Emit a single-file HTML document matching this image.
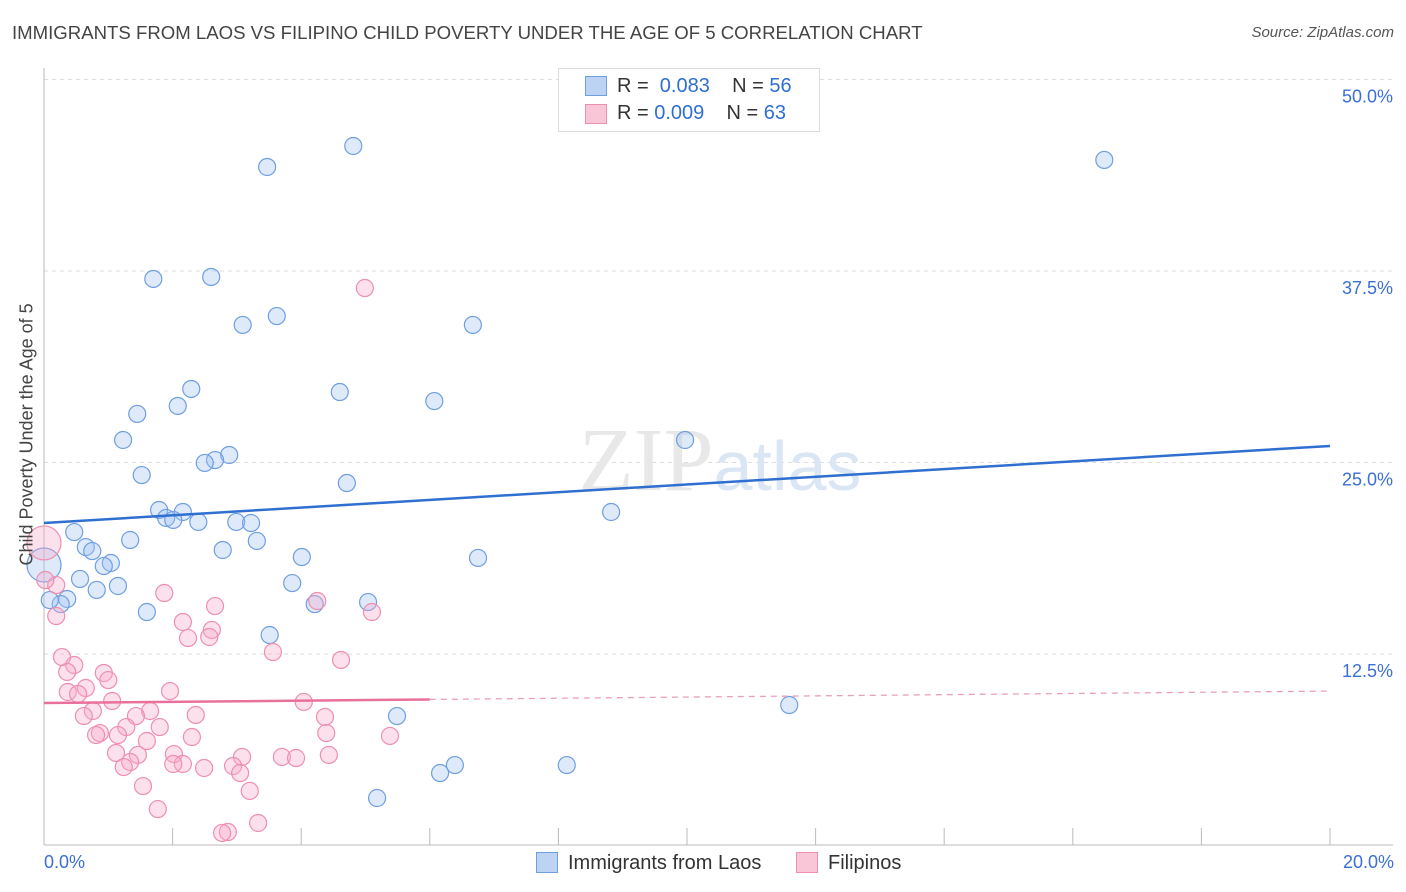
<!DOCTYPE html>
<html><head><meta charset="utf-8"><style>
body{margin:0;background:#fff;font-family:"Liberation Sans",sans-serif;}
#c{position:relative;width:1406px;height:892px;overflow:hidden}
.t{position:absolute;white-space:nowrap}
</style></head><body>
<div id="c">
<div class="t" style="left:12px;top:22px;font-size:18.6px;color:#444">IMMIGRANTS FROM LAOS VS FILIPINO CHILD POVERTY UNDER THE AGE OF 5 CORRELATION CHART</div>
<div class="t" style="right:12px;top:24px;font-size:15px;color:#555;font-style:italic">Source: ZipAtlas.com</div>
<svg id="s" width="1406" height="892" style="position:absolute;left:0;top:0"></svg>
</div>
<script>
const xTicks=[0,2,4,6,8,10,12,14,16,18,20];
const yTicks=[12.5,25,37.5,50];
const yTickLabels=["12.5%","25.0%","37.5%","50.0%"];
const laosX=[4.81,3.47,16.49,1.70,2.60,3.09,3.62,6.67,2.29,4.60,6.07,2.08,1.45,1.23,9.97,2.88,2.66,2.50,1.52,4.71,1.79,2.16,1.90,2.01,2.40,2.99,3.22,8.82,0.47,1.34,3.31,0.65,0.75,2.78,4.01,6.75,1.04,0.93,0.56,1.15,3.86,0.82,0.36,0.26,1.60,4.21,5.04,3.51,5.49,11.59,6.39,6.16,8.13,5.18,0,0.09];
const laosY=[45.66,44.29,44.75,36.98,37.11,33.98,34.56,33.98,29.80,29.60,29.01,28.69,28.17,26.47,26.47,25.49,25.16,24.97,24.18,23.66,21.90,21.77,21.38,21.25,21.12,21.12,21.05,21.77,20.46,19.94,19.88,19.48,19.22,19.29,18.83,18.77,18.44,18.24,17.40,16.94,17.13,16.68,16.09,15.76,15.24,15.76,15.89,13.74,8.45,9.17,5.25,4.73,5.25,3.10,18.31,16.02];
const filX=[4.99,0,0.19,0.19,1.87,2.66,4.25,5.10,2.16,2.61,2.57,2.24,3.56,4.62,0.28,0.47,0.36,0.93,1.00,0.65,0.37,0.53,1.96,4.04,1.06,0.76,0.62,1.65,1.43,2.36,4.37,1.28,1.80,0.87,0.81,1.15,4.39,5.38,2.30,1.60,1.12,1.46,2.02,3.08,2.16,2.01,3.70,3.92,4.43,1.34,1.24,2.49,2.94,3.05,1.54,3.20,1.77,3.33,2.86,2.77,0.02];
const filY=[36.39,19.75,17.00,14.98,16.48,15.63,15.96,15.24,14.59,14.07,13.61,13.54,12.63,12.11,12.30,11.78,11.33,11.26,10.80,10.28,10.02,9.89,10.08,9.37,9.43,8.78,8.45,8.78,8.45,8.52,8.39,7.73,7.73,7.34,7.21,7.21,7.34,7.15,7.08,6.82,6.04,5.91,5.97,5.78,5.32,5.32,5.78,5.71,5.91,5.45,5.12,5.06,5.19,4.73,3.88,3.56,2.38,1.47,0.88,0.82,17.33];
const laosTrend=[21.05,26.08];
const filTrend=[9.30,10.08];
const NS="http://www.w3.org/2000/svg";
const s=document.getElementById('s');
const X=v=>44+v/20*1286, Y=v=>845.5-v/12.5*191.5;
function mk(t,a){const e=document.createElementNS(NS,t);for(const k in a)e.setAttribute(k,a[k]);s.appendChild(e);return e;}
yTicks.forEach((v,i)=>{const g=mk('line',{x1:44,x2:1393,y1:Y(v),y2:Y(v),stroke:'#ddd','stroke-dasharray':'4,4'});


const t=mk('text',{x:1393,y:Y(v)+23,'text-anchor':'end','font-size':18,fill:'#3b6fd4'});t.textContent=yTickLabels[i];

});
const ax=mk('line',{x1:44,x2:44,y1:68,y2:845,stroke:'#bbb'});


const bx=mk('line',{x1:44,x2:1393,y1:845,y2:845,stroke:'#bbb'});


xTicks.slice(1).forEach(v=>{const l=mk('line',{x1:X(v),x2:X(v),y1:828,y2:845,stroke:'#bbb'});

});
const wm=mk('text',{x:720,y:490,'text-anchor':'middle','font-size':90,fill:'#e8e8e8','font-family':'Liberation Serif'});wm.innerHTML='ZIP<tspan fill="#dbe6f5" font-family="Liberation Sans" font-size="70">atlas</tspan>';


function pts(xs,ys,fill,stroke,name){xs.forEach((v,i)=>{const big=(v===0);const c=mk('circle',{cx:X(v),cy:Y(ys[i]),r:big?17:8.5,fill:fill,stroke:stroke,'stroke-width':1.2});

});}
pts(laosX,laosY,'rgba(160,196,240,0.35)','#6f9fe0','laos-point');
pts(filX,filY,'rgba(245,170,200,0.35)','#ee8fb0','filipino-point');
const bt=mk('line',{x1:X(0),y1:Y(laosTrend[0]),x2:X(20),y2:Y(laosTrend[1]),stroke:'#2f6fd0','stroke-width':2.5});


const fy=x=>filTrend[0]+(filTrend[1]-filTrend[0])*x/20;
const pt=mk('line',{x1:X(0),y1:Y(fy(0)),x2:X(6),y2:Y(fy(6)),stroke:'#e8709a','stroke-width':2.5});


const pd=mk('line',{x1:X(6),y1:Y(fy(6)),x2:X(20),y2:Y(fy(20)),stroke:'#e8a0b8','stroke-width':1.3,'stroke-dasharray':'6,5'});


</script>
<div class="t" style="left:-83px;top:445px;font-size:18px;color:#444;transform:rotate(-90deg);width:220px;text-align:center">Child Poverty Under the Age of 5</div>
<div class="t" style="left:44px;top:852px;font-size:18px;color:#3b6fd4">0.0%</div>
<div class="t" style="right:12px;top:852px;font-size:18px;color:#3b6fd4">20.0%</div>
<div class="t" style="left:558px;top:68px;width:260px;height:62px;border:1px solid #ddd;background:#fff;font-size:20px;color:#333">
<div style="position:absolute;left:26px;top:7px;width:20px;height:18px;background:#bcd3f3;border:1px solid #6f9fe0"></div>
<div style="position:absolute;left:58px;top:6px">R = <span style="color:#2f6fd0">&nbsp;0.083</span>&nbsp;&nbsp;&nbsp; N = <span style="color:#2f6fd0">56</span></div>
<div style="position:absolute;left:26px;top:35px;width:20px;height:18px;background:#f8c6d6;border:1px solid #ee8fb0"></div>
<div style="position:absolute;left:58px;top:33px">R = <span style="color:#2f6fd0">0.009</span>&nbsp;&nbsp;&nbsp; N = <span style="color:#2f6fd0">63</span></div>
</div>
<div class="t" style="left:536px;top:852px;font-size:20px;color:#333"><span style="display:inline-block;width:20px;height:19px;background:#bcd3f3;border:1px solid #6f9fe0;vertical-align:-4px;margin-right:10px"></span>Immigrants from Laos</div>
<div class="t" style="left:796px;top:852px;font-size:20px;color:#333"><span style="display:inline-block;width:20px;height:19px;background:#f8c6d6;border:1px solid #ee8fb0;vertical-align:-4px;margin-right:10px"></span>Filipinos</div>
</body></html>
